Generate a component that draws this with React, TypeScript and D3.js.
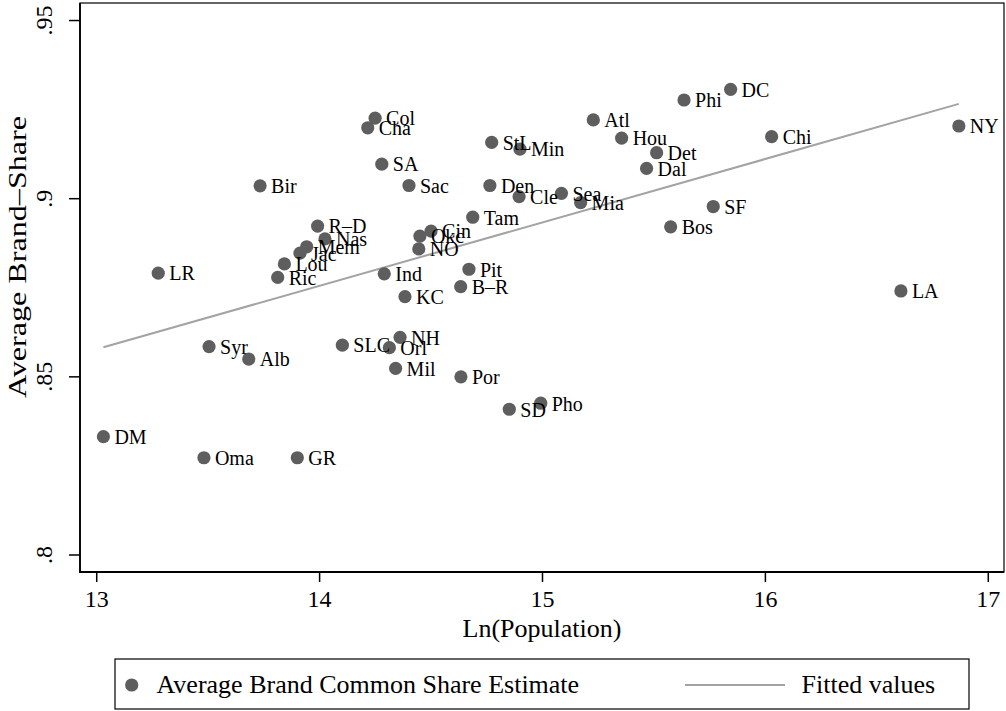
import React from "react";
import * as d3 from "d3";

const cities = ["DM","LR","Syr","Alb","Oma","GR","SLC","NH","Orl","Mil","Por","SD","Pho","R–D","Nas","Mem","Jac","Lou","Ric","Ind","KC","Cin","Okc","NO","Tam","Pit","B–R","Col","Cha","SA","Sac","StL","Min","Den","Cle","Sea","Mia","Atl","DC","Hou","Det","Dal","Chi","SF","Bos","Phi","NY","LA","Bir"];
const lnPop = [13.030,13.276,13.504,13.682,13.481,13.900,14.102,14.361,14.313,14.341,14.634,14.851,14.992,13.991,14.024,13.942,13.912,13.842,13.812,14.290,14.383,14.500,14.450,14.445,14.687,14.670,14.633,14.249,14.216,14.279,14.401,14.772,14.899,14.764,14.895,15.085,15.171,15.228,15.844,15.355,15.512,15.467,16.028,15.766,15.575,15.635,16.868,16.608,13.733];
const brandShare = [0.8332,0.8791,0.8585,0.8550,0.8273,0.8273,0.8589,0.8611,0.8582,0.8524,0.8500,0.8409,0.8426,0.8923,0.8887,0.8865,0.8847,0.8817,0.8779,0.8789,0.8725,0.8909,0.8895,0.8859,0.8948,0.8802,0.8753,0.9226,0.9199,0.9097,0.9037,0.9158,0.9139,0.9037,0.9006,0.9015,0.8989,0.9221,0.9307,0.9170,0.9129,0.9085,0.9174,0.8978,0.8921,0.9277,0.9204,0.8741,0.9036];
const fitX = [13.030, 16.868];
const fitY = [0.8583, 0.9266];
const xTicks = [13, 14, 15, 16, 17];
const yTicks = [0.8, 0.85, 0.9, 0.95];
const yTickLabels = [".8", ".85", ".9", ".95"];

const FONT = "'Liberation Serif', 'Times New Roman', serif";
const DOT = "#5e5e5e";
const FIT = "#a3a3a3";

export default function App() {
  const left = 80, right = 1004, top = 3, bottom = 572;
  const x = d3.scaleLinear().domain([12.925, 17.0705]).range([left, right]);
  const y = d3.scaleLinear().domain([0.79523, 0.95492]).range([bottom, top]);
  const line = d3.line<number>().x((d) => x(fitX[d])).y((d) => y(fitY[d]));

  return (
    <svg width={1006} height={711} style={{ position: "absolute", left: 0, top: 0, background: "#fff" }} fontFamily={FONT}>
      <rect x={0} y={0} width={1006} height={711} fill="#fff" />
      {/* plot frame */}
      <rect x={left} y={top} width={right - left} height={bottom - top} fill="none" stroke="#000" strokeWidth={1.2} />
      <line x1={left} x2={left} y1={top} y2={bottom + 0.75} stroke="#000" strokeWidth={1.8} />
      <line x1={left - 0.75} x2={right} y1={bottom} y2={bottom} stroke="#000" strokeWidth={1.8} />
      {/* fitted line */}
      <path d={line([0, 1]) || ""} fill="none" stroke={FIT} strokeWidth={2} />
      {/* points */}
      {cities.map((c, i) => (
        <circle key={"p" + i} cx={x(lnPop[i])} cy={y(brandShare[i])} r={6.6} fill={DOT} />
      ))}
      {cities.map((c, i) => (
        <text key={"t" + i} x={x(lnPop[i]) + 11} y={y(brandShare[i]) + 7.3} fontSize={20} fill="#000">
          {c}
        </text>
      ))}
      {/* x axis ticks */}
      {xTicks.map((t) => (
        <g key={"xt" + t}>
          <line x1={x(t)} x2={x(t)} y1={bottom} y2={bottom + 10} stroke="#000" strokeWidth={1.5} />
          <text x={x(t)} y={607} textAnchor="middle" fontSize={24}>{t}</text>
        </g>
      ))}
      {/* y axis ticks */}
      {yTicks.map((t, i) => (
        <g key={"yt" + t}>
          <line x1={left - 11} x2={left} y1={y(t)} y2={y(t)} stroke="#000" strokeWidth={1.5} />
          <text transform={`translate(52,${y(t)}) rotate(-90)`} textAnchor="middle" fontSize={24}>{yTickLabels[i]}</text>
        </g>
      ))}
      <text x={(left + right) / 2} y={637} textAnchor="middle" fontSize={26}>Ln(Population)</text>
      <text transform={`translate(26,257) rotate(-90)`} textAnchor="middle" fontSize={26} textLength={282} lengthAdjust="spacingAndGlyphs">Average Brand–Share</text>
      {/* legend */}
      <rect x={115} y={659} width={854} height={50} fill="#fff" stroke="#000" strokeWidth={1.2} />
      <circle cx={131.7} cy={685} r={6.6} fill={DOT} />
      <text x={156.5} y={693} fontSize={26}>Average Brand Common Share Estimate</text>
      <line x1={685} x2={785} y1={685} y2={685} stroke={FIT} strokeWidth={2} />
      <text x={801.5} y={692.5} fontSize={26}>Fitted values</text>
    </svg>
  );
}
